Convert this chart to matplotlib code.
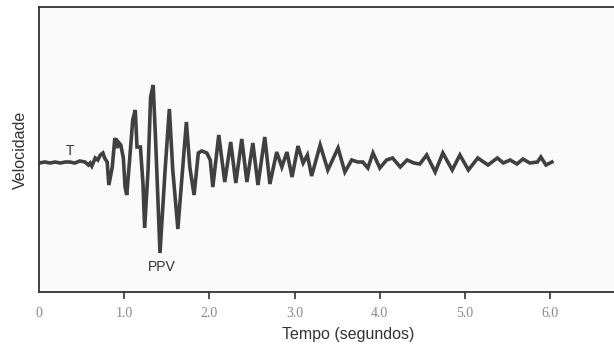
import matplotlib
matplotlib.use("Agg")
import matplotlib.pyplot as plt

# sismograma: tempo (s) e velocidade (unidades arbitrarias)
tempo = [0.00, 0.07, 0.13, 0.19, 0.25, 0.31, 0.36, 0.42, 0.48, 0.54,
         0.58, 0.60, 0.62, 0.66, 0.69, 0.72, 0.75, 0.77, 0.80, 0.82,
         0.86, 0.89, 0.92, 0.93, 0.96, 0.99, 1.01, 1.03, 1.07, 1.10,
         1.13, 1.15, 1.19, 1.22, 1.24, 1.28, 1.31, 1.34, 1.37, 1.42,
         1.48, 1.53, 1.57, 1.63, 1.68, 1.73, 1.77, 1.82, 1.87, 1.91,
         1.97, 2.01, 2.04, 2.11, 2.18, 2.25, 2.31, 2.38, 2.44, 2.51,
         2.57, 2.65, 2.71, 2.79, 2.85, 2.91, 2.97, 3.04, 3.10, 3.15,
         3.20, 3.30, 3.39, 3.51, 3.59, 3.67, 3.74, 3.80, 3.86, 3.92,
         4.00, 4.08, 4.15, 4.24, 4.32, 4.40, 4.47, 4.55, 4.65, 4.74,
         4.85, 4.94, 5.04, 5.15, 5.27, 5.38, 5.45, 5.53, 5.61, 5.68,
         5.76, 5.85, 5.89, 5.95, 6.02]
velocidade = [0, 1, 0, 1, 0, 1, 1, 0, 2, 1,
              -2, 0, -3, 5, 3, 8, 10, 5, 1, -22,
              -4, 25, 15, 21, 18, 5, -24, -32, 10, 43,
              53, 16, 16, -20, -65, -7, 66, 78, 20, -90,
              -7, 54, -7, -66, -12, 41, -4, -32, 10, 12,
              10, 3, -24, 28, -19, 21, -20, 24, -19, 20,
              -22, 26, -21, 11, -4, 11, -14, 17, 0, 8,
              -13, 18, -7, 15, -9, 3, 1, 1, -5, 10,
              -5, 3, 5, -4, 3, 0, -1, 8, -9, 10,
              -7, 8, -7, 5, -2, 5, 0, 3, -1, 4,
              0, 1, 6, -2, 1]

ticks = [0, 1, 2, 3, 4, 5, 6]
tick_labels = ["0", "1.0", "2.0", "3.0", "4.0", "5.0", "6.0"]

fig = plt.figure(figsize=(6.14, 3.47), dpi=100)
ax = fig.add_axes([39 / 614, 55 / 347, 575 / 614, 285 / 347])
ax.set_facecolor("#fafafa")

ax.plot(tempo, velocidade, color="#404040", lw=2.6, solid_joinstyle="miter")

ax.set_xlim(0, 575 / 85.2)
ax.set_ylim(-129, 156)

for side in ["top", "left", "bottom"]:
    ax.spines[side].set_color("#333333")
    ax.spines[side].set_linewidth(1.3)
ax.spines["right"].set_visible(False)

ax.set_yticks([])
ax.set_xticks(ticks)
ax.set_xticklabels(tick_labels, family="Liberation Serif", fontsize=10, color="#8a8a8a")
ax.tick_params(axis="x", direction="out", length=5, width=1.2, color="#333333", pad=6)
ax.xaxis.get_major_ticks()[0].tick1line.set_visible(False)

fig.text(348 / 614, 1 - 334 / 347, "Tempo (segundos)", family="Liberation Sans",
         fontsize=11.5, color="#333333", ha="center", va="center")
fig.text(20 / 614, 1 - 150 / 347, "Velocidade", family="Liberation Sans",
         fontsize=11.5, color="#333333", ha="center", va="center", rotation=90)

ax.text(0.36, 12, "T", family="Liberation Sans", fontsize=10, color="#333333",
        ha="center", va="center")
ax.text(1.44, -104, "PPV", family="Liberation Sans", fontsize=10, color="#333333",
        ha="center", va="center")

fig.savefig("out.png", dpi=100)
